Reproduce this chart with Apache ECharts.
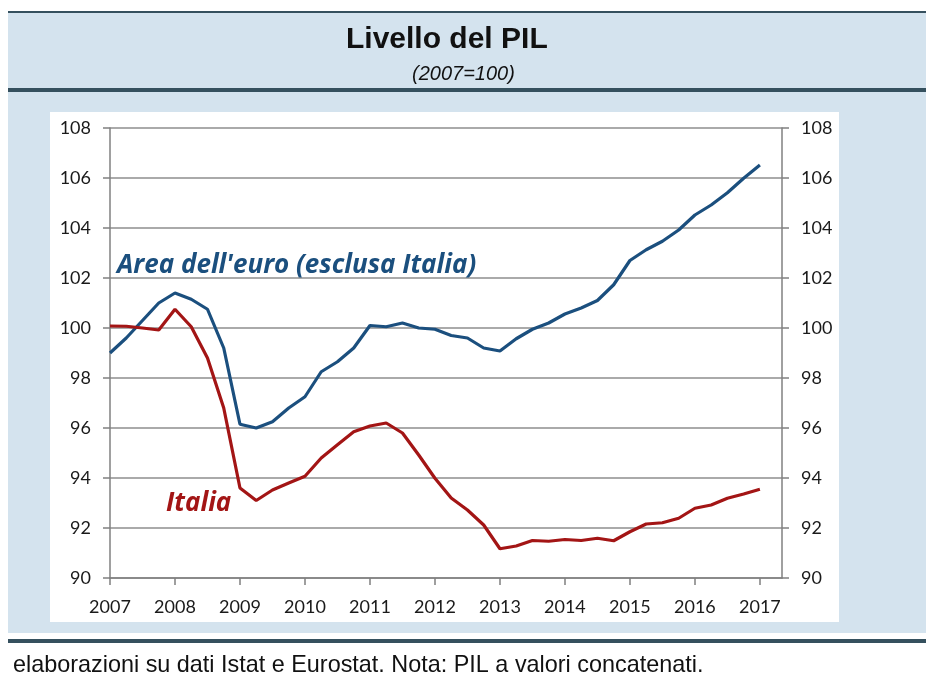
<!DOCTYPE html>
<html>
<head>
<meta charset="utf-8">
<script src="https://cdn.jsdelivr.net/npm/echarts@6/dist/echarts.min.js"></script>
<style>
  html, body { margin: 0; padding: 0; background: #fff; }
  #chart { width: 926px; height: 677px; }
</style>
</head>
<body>
<div id="chart"></div>
<script>
// anni sull'asse x (dati trimestrali, dal 2007T1 al 2017T1)
var years = [2007, 2008, 2009, 2010, 2011, 2012, 2013, 2014, 2015, 2016, 2017]
var yTicks = [90, 92, 94, 96, 98, 100, 102, 104, 106, 108]

// Area dell'euro (esclusa Italia), 2007=100
var areaEuro = [
  99.0, 99.6, 100.3, 101.0,
  101.4, 101.15, 100.75, 99.2,
  96.15, 96.0, 96.25, 96.8,
  97.25, 98.25, 98.65, 99.2,
  100.1, 100.05, 100.2, 100.0,
  99.95, 99.7, 99.6, 99.2,
  99.08, 99.57, 99.95, 100.2,
  100.56, 100.8, 101.1, 101.73,
  102.7, 103.13, 103.47, 103.92,
  104.52, 104.92, 105.41, 105.99,
  106.52
]

// Italia, 2007=100
var italia = [
  100.08, 100.07, 100.0, 99.92,
  100.75, 100.05, 98.8, 96.8,
  93.6, 93.1, 93.52, 93.8,
  94.07, 94.8, 95.33, 95.85,
  96.08, 96.2, 95.8, 94.92,
  93.99, 93.2, 92.72, 92.12,
  91.17, 91.28, 91.5, 91.47,
  91.54, 91.5, 91.59, 91.49,
  91.85, 92.16, 92.21, 92.39,
  92.79, 92.92, 93.19, 93.36,
  93.55
]

// posizione di ogni trimestre sull'asse (anno + frazione)
function toPairs(values) {
  return values.map(function (v, i) {
    return [years[0] + i / 4, v]
  })
}

var axisGray = '#808080'
var gridGray = '#8e8e8e'
var tickFont = { fontFamily: 'Lato', fontSize: 18, color: '#1a1a1a' }

var yAxisBase = {
  type: 'value',
  min: yTicks[0],
  max: yTicks[yTicks.length - 1],
  interval: 2,
  axisLine: { show: true, lineStyle: { color: axisGray, width: 1.5 } },
  axisTick: { show: true, length: 7, lineStyle: { color: axisGray, width: 1.5 } },
  axisLabel: Object.assign({ margin: 19 }, tickFont)
}

var option = {
  animation: false,
  backgroundColor: '#ffffff',
  title: [
    {
      text: 'Livello del PIL',
      left: 341,
      top: 20,
      textStyle: { fontFamily: 'Liberation Sans', fontWeight: 'bold', fontSize: 30, color: '#111' }
    },
    {
      text: '(2007=100)',
      left: 407,
      top: 59,
      textStyle: { fontFamily: 'Liberation Sans', fontStyle: 'italic', fontWeight: 'normal', fontSize: 20, color: '#111' }
    },
    {
      text: 'elaborazioni su dati Istat e Eurostat. Nota: PIL a valori concatenati.',
      left: 8,
      top: 649,
      textStyle: { fontFamily: 'Liberation Sans', fontWeight: 'normal', fontSize: 23.4, color: '#111' }
    }
  ],
  graphic: [
    // fasce di sfondo
    { type: 'rect', z: -10, shape: { x: 8, y: 11, width: 918, height: 2 }, style: { fill: '#35505e' } },
    { type: 'rect', z: -10, shape: { x: 8, y: 13, width: 918, height: 75 }, style: { fill: '#d4e3ee' } },
    { type: 'rect', z: -10, shape: { x: 8, y: 88, width: 918, height: 4 }, style: { fill: '#35505e' } },
    { type: 'rect', z: -10, shape: { x: 8, y: 92, width: 918, height: 541 }, style: { fill: '#d4e3ee' } },
    { type: 'rect', z: -10, shape: { x: 50, y: 112, width: 789, height: 510 }, style: { fill: '#ffffff' } },
    { type: 'rect', z: -10, shape: { x: 8, y: 639, width: 918, height: 4 }, style: { fill: '#35505e' } },
    // etichette delle serie
    {
      type: 'text', z: 10, left: 117, top: 253,
      style: {
        text: "Area dell'euro (esclusa Italia)",
        font: 'italic bold 26px "Open Sans"',
        fill: '#1b4f7e'
      }
    },
    {
      type: 'text', z: 10, left: 166, top: 491,
      style: {
        text: 'Italia',
        font: 'italic bold 26px "Open Sans"',
        fill: '#a31515'
      }
    }
  ],
  grid: {
    left: 110,
    right: 144,
    top: 128,
    bottom: 99,
    containLabel: false
  },
  xAxis: {
    type: 'value',
    min: years[0],
    max: 2017.34,
    interval: 1,
    splitLine: { show: false },
    axisLine: { show: true, lineStyle: { color: axisGray, width: 1.5 } },
    axisTick: { show: true, length: 7, lineStyle: { color: axisGray, width: 1.5 } },
    axisLabel: Object.assign({
      margin: 20,
      showMaxLabel: false,
      formatter: function (v) { return Number.isInteger(v) ? String(v) : '' }
    }, tickFont)
  },
  yAxis: [
    Object.assign({}, yAxisBase, {
      position: 'left',
      splitLine: { show: true, lineStyle: { color: gridGray, width: 1.6 } }
    }),
    Object.assign({}, yAxisBase, {
      position: 'right',
      splitLine: { show: false }
    })
  ],
  series: [
    {
      name: "Area dell'euro (esclusa Italia)",
      type: 'line',
      yAxisIndex: 0,
      data: toPairs(areaEuro),
      symbol: 'none',
      lineStyle: { color: '#1b4f7e', width: 3.2 },
      z: 3
    },
    {
      name: 'Italia',
      type: 'line',
      yAxisIndex: 0,
      data: toPairs(italia),
      symbol: 'none',
      lineStyle: { color: '#a31515', width: 3.2 },
      z: 3
    }
  ]
}

var chartObj = echarts.init(document.getElementById('chart'))
chartObj.setOption(option)
</script>
</body>
</html>
